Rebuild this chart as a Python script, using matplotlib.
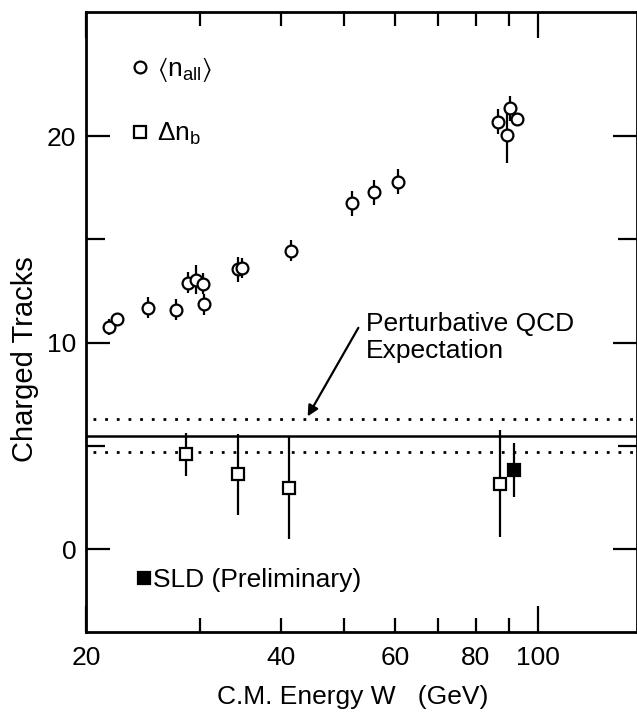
import matplotlib
matplotlib.use("Agg")
import matplotlib.pyplot as plt
from matplotlib.lines import Line2D
from matplotlib.ticker import FixedLocator, FixedFormatter

plt.rcParams["font.family"] = ["Liberation Sans", "DejaVu Sans"]
plt.rcParams["mathtext.fontset"] = "custom"
plt.rcParams["mathtext.rm"] = "Liberation Sans"
plt.rcParams["mathtext.it"] = "Liberation Sans"
plt.rcParams["mathtext.fallback"] = "stixsans"

# <n_all> : mean charged multiplicity vs energy
w_all = [21.7, 22.3, 24.9, 27.5, 28.7, 29.6, 30.3, 30.4, 34.3, 34.8, 41.5,
         51.5, 55.8, 60.6, 86.5, 89.3, 90.3, 92.5]
n_all = [10.77, 11.16, 11.69, 11.6, 12.9, 13.05, 12.85, 11.85, 13.55, 13.62, 14.45,
         16.75, 17.27, 17.8, 20.69, 20.05, 21.34, 20.81]
n_all_err = [0.4, 0.3, 0.5, 0.5, 0.5, 0.7, 0.5, 0.5, 0.6, 0.5, 0.5,
             0.6, 0.6, 0.6, 0.6, 1.35, 0.6, 0.3]

# Delta n_b : b-quark multiplicity difference
w_b = [28.5, 34.4, 41.2, 87.3]
dn_b = [4.6, 3.63, 2.98, 3.17]
dn_b_err = [1.05, 1.95, 2.5, 2.6]

# SLD preliminary
w_sld = [91.6]
dn_sld = [3.82]
dn_sld_err = [1.3]

# perturbative QCD expectation
qcd_val = 5.5
qcd_err = 0.8

x_major = [20, 100]
x_minor = [30, 40, 50, 60, 70, 80, 90]
x_minor_labels = ["", "40", "", "60", "", "80", ""]
y_major = [0, 10, 20]
y_minor = [5, 15]

fs = 19

fig = plt.figure(figsize=(6.37, 7.14), dpi=100)
ax = fig.add_axes([0.135, 0.115, 0.865, 0.868])
ax.set_xscale("log")
ax.set_xlim(20, 142)
ax.set_ylim(-4, 26)

ax.axhline(qcd_val, color="black", lw=1.8, zorder=1)
for yv in (qcd_val - qcd_err, qcd_val + qcd_err):
    ax.axhline(yv, xmin=0.012, color="black", lw=2.0,
               linestyle=(0, (1, 3.2)), zorder=1)

ax.errorbar(w_all, n_all, yerr=n_all_err, fmt="o", ms=8.5, mfc="white",
            mec="black", mew=1.6, ecolor="black", elinewidth=1.6, capsize=0,
            zorder=3)
ax.errorbar(w_b, dn_b, yerr=dn_b_err, fmt="s", ms=9, mfc="white",
            mec="black", mew=1.6, ecolor="black", elinewidth=1.6, capsize=0,
            zorder=3)
ax.errorbar(w_sld, dn_sld, yerr=dn_sld_err, fmt="s", ms=9, mfc="black",
            mec="black", mew=1.6, ecolor="black", elinewidth=1.6, capsize=0,
            zorder=3)

ax.annotate("", xy=(44.0, 6.43), xytext=(52.7, 10.72),
            arrowprops=dict(arrowstyle="-|>", color="black", lw=1.6,
                            mutation_scale=16, shrinkA=0, shrinkB=0))
ax.text(54.2, 11.5, "Perturbative QCD\nExpectation", fontsize=fs,
        va="top", ha="left", linespacing=1.2)

# legends
h_all = Line2D([], [], marker="o", ls="none", ms=8.5, mfc="white", mec="black", mew=1.6)
h_b = Line2D([], [], marker="s", ls="none", ms=9, mfc="white", mec="black", mew=1.6)
h_sld = Line2D([], [], marker="s", ls="none", ms=9, mfc="black", mec="black", mew=1.6)
leg1 = ax.legend([h_all, h_b],
                 [r"$\langle\mathrm{n_{all}}\rangle$", r"$\Delta\mathrm{n_b}$"],
                 loc="upper left", bbox_to_anchor=(0.064, 0.948), frameon=False,
                 fontsize=fs, handlelength=0.6, handletextpad=0.35,
                 labelspacing=1.4, borderaxespad=0)
ax.add_artist(leg1)
ax.legend([h_sld], ["SLD (Preliminary)"], loc="center left",
          bbox_to_anchor=(0.072, 0.084), frameon=False, fontsize=fs,
          handlelength=0.6, handletextpad=0.05, borderaxespad=0)

# ticks
ax.xaxis.set_major_locator(FixedLocator(x_major))
ax.xaxis.set_major_formatter(FixedFormatter([str(v) for v in x_major]))
ax.xaxis.set_minor_locator(FixedLocator(x_minor))
ax.xaxis.set_minor_formatter(FixedFormatter(x_minor_labels))
ax.yaxis.set_major_locator(FixedLocator(y_major))
ax.yaxis.set_major_formatter(FixedFormatter([str(v) for v in y_major]))
ax.yaxis.set_minor_locator(FixedLocator(y_minor))
ax.tick_params(which="both", direction="in", top=True, right=True, width=1.6,
               labelsize=fs)
ax.tick_params(axis="x", which="major", length=19, pad=10)
ax.tick_params(axis="x", which="minor", length=10, pad=10)
ax.tick_params(axis="y", which="major", length=17, pad=7)
ax.tick_params(axis="y", which="minor", length=13.5)

for sp in ax.spines.values():
    sp.set_linewidth(2.0)

ax.set_xlabel("C.M. Energy W   (GeV)", fontsize=fs)
ax.xaxis.set_label_coords(0.484, -0.085)
ax.set_ylabel("Charged Tracks", fontsize=21)
ax.yaxis.set_label_coords(-0.085, 0.44)

fig.savefig("out.png", dpi=100)
